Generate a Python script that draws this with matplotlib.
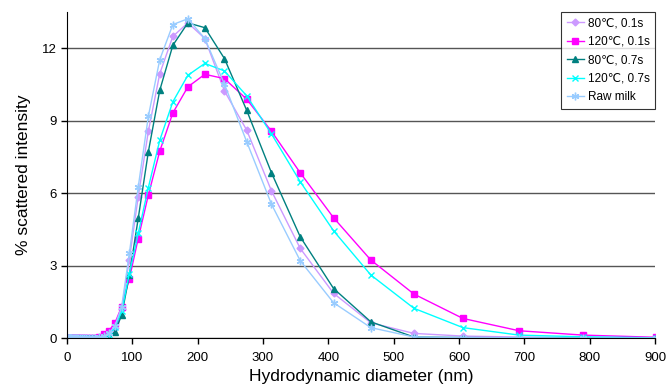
import matplotlib
matplotlib.use('Agg')
import matplotlib.pyplot as plt

plt.rcParams['font.family'] = ['Liberation Sans', 'DejaVu Sans']

# particle size bins (nm)
diameter = [2.1, 2.4, 2.7, 3.1, 3.5, 4.0, 4.6, 5.2, 6.0, 6.8, 7.8, 8.9, 10.1, 11.6,
            13.2, 15.0, 17.2, 19.6, 22.4, 25.5, 29.1, 33.2, 37.9, 43.2, 49.3, 56.3,
            64.2, 73.3, 83.7, 95.4, 109, 124.5, 142, 162, 185, 211, 241, 275, 313,
            357, 408, 465, 531, 606, 692, 790, 901]

# % scattered intensity
t80_01 = [0, 0, 0, 0, 0, 0, 0, 0, 0, 0, 0, 0, 0, 0,
          0, 0, 0, 0, 0, 0, 0, 0, 0, 0, 0.02, 0.05,
          0.15, 0.4, 1.2, 3.25, 5.85, 8.56, 10.95, 12.49, 13.05, 12.40, 10.23, 8.61, 6.09,
          3.71, 1.85, 0.63, 0.19, 0.08, 0.04, 0.02, 0.0]
t120_01 = [0, 0, 0, 0, 0, 0, 0, 0, 0, 0, 0, 0, 0, 0,
           0, 0, 0, 0, 0, 0, 0, 0, 0, 0.02, 0.05, 0.15,
           0.3, 0.62, 1.3, 2.45, 4.12, 5.92, 7.74, 9.32, 10.40, 10.92, 10.74, 9.89, 8.56,
           6.84, 4.98, 3.23, 1.82, 0.81, 0.30, 0.12, 0.03]
t80_07 = [0, 0, 0, 0, 0, 0, 0, 0, 0, 0, 0, 0, 0, 0,
          0, 0, 0, 0, 0, 0, 0, 0, 0, 0, 0.02, 0.05,
          0.1, 0.25, 0.95, 2.6, 4.95, 7.71, 10.26, 12.12, 13.05, 12.85, 11.57, 9.43, 6.84,
          4.19, 2.05, 0.67, 0.04, 0.02, 0.01, 0.0, 0.0]
t120_07 = [0, 0, 0, 0, 0, 0, 0, 0, 0, 0, 0, 0, 0, 0,
           0, 0, 0, 0, 0, 0, 0, 0, 0, 0, 0.02, 0.05,
           0.12, 0.45, 1.1, 2.67, 4.33, 6.23, 8.19, 9.78, 10.88, 11.37, 11.06, 10.03, 8.45,
           6.47, 4.44, 2.61, 1.23, 0.43, 0.12, 0.05, 0.01]
raw_milk = [0, 0, 0, 0, 0, 0, 0, 0, 0, 0, 0, 0, 0, 0,
            0, 0, 0, 0, 0, 0, 0, 0, 0, 0, 0.03, 0.08,
            0.2, 0.5, 1.3, 3.5, 6.25, 9.18, 11.53, 12.98, 13.22, 12.40, 10.51, 8.13, 5.54,
            3.20, 1.46, 0.43, 0.04, 0.02, 0.01, 0.0, 0.0]

fig = plt.figure(figsize=(6.66, 3.87), dpi=100)
ax = fig.add_axes([0.1006, 0.1266, 0.8829, 0.8424])

ax.plot(diameter, t80_01, color='#CC99FF', marker='D', ms=3.5, lw=1, label='80\u2103, 0.1s')
ax.plot(diameter, t120_01, color='#FF00FF', marker='s', ms=4.5, lw=1, label='120\u2103, 0.1s')
ax.plot(diameter, t80_07, color='#008080', marker='^', ms=4.5, lw=1, label='80\u2103, 0.7s')
ax.plot(diameter, t120_07, color='#00FFFF', marker='x', ms=4.5, mew=1, lw=1, label='120\u2103, 0.7s')
ax.plot(diameter, raw_milk, color='#99CCFF', marker=(6, 2, 0), ms=5.5, mew=1, lw=1, label='Raw milk')

ax.set_xlim(0, 900)
ax.set_ylim(0, 13.5)
ax.set_xticks(range(0, 1000, 100))
ax.set_yticks([0, 3, 6, 9, 12])
ax.grid(axis='y', color='#555555', lw=1)
ax.set_axisbelow(True)
for s in ['top', 'right']:
    ax.spines[s].set_visible(False)
ax.tick_params(direction='out', length=4, labelsize=9.5, width=1)
ax.tick_params(axis='x', pad=6)
ax.set_xlabel('Hydrodynamic diameter (nm)', fontsize=12.5, labelpad=4)
ax.set_ylabel('% scattered intensity', fontsize=12.5, labelpad=8)

leg = ax.legend(loc='upper right', bbox_to_anchor=(1.0, 1.0), fontsize=8.5,
                frameon=True, fancybox=False, borderaxespad=0, handlelength=1.5,
                handletextpad=0.3, labelspacing=0.55, borderpad=0.45)
leg.get_frame().set_edgecolor('black')
leg.get_frame().set_linewidth(0.8)

fig.savefig('out.png', dpi=100)
